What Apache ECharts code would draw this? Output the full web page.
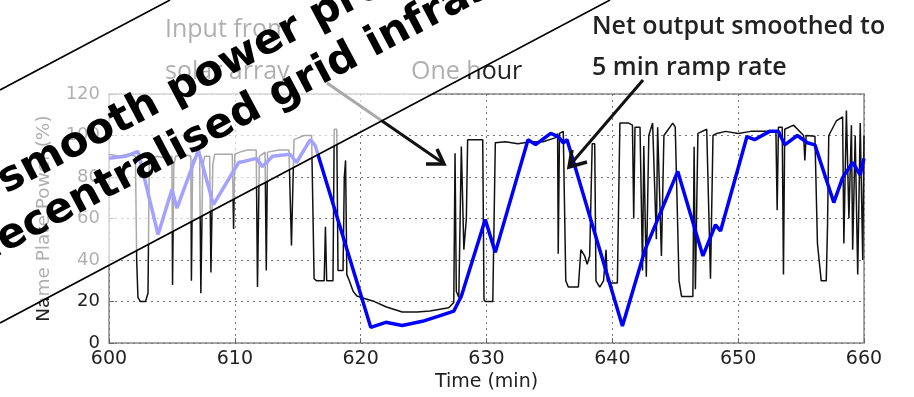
<!DOCTYPE html>
<html>
<head>
<meta charset="utf-8">
<script src="https://cdn.jsdelivr.net/npm/echarts@6/dist/echarts.min.js"></script>
<style>
  html, body { margin: 0; padding: 0; background: #fff; }
  #main { width: 914px; height: 397px; }
</style>
</head>
<body>
<div id="main"></div>
<script>
// raw input from the solar array (time in min, % of name plate power)
const inputTime = [
  600.0, 600.8, 601.5, 602.1, 602.2, 602.3, 602.5, 602.9, 603.1, 603.2,
  603.8, 604.6, 605.0, 605.05, 605.15, 605.3, 606.0, 606.5, 606.55, 606.65,
  607.2, 607.3, 607.45, 607.6, 608.0, 608.1, 608.25, 608.4, 609.0, 609.8,
  609.9, 610.0, 610.4, 611.0, 611.7, 611.8, 611.95, 612.4, 612.5, 612.6,
  613.5, 614.3, 614.5, 614.7, 615.5, 616.1, 616.3, 616.5, 617.1, 617.2,
  617.3, 617.8, 617.9, 618.1, 618.2, 618.6, 618.7, 618.8, 618.9, 619.1,
  619.4, 619.7, 620.3, 621.1, 622.0, 623.3, 624.5, 625.5, 627.0, 627.4,
  627.5, 627.6, 627.8, 628.0, 628.2, 628.4, 628.5, 629.0, 629.7, 629.8,
  629.9, 630.5, 630.7, 631.5, 632.5, 633.5, 634.5, 635.5, 635.65, 635.7,
  635.8, 636.1, 636.3, 636.5, 637.3, 637.5, 637.8, 638.0, 638.2, 638.4,
  638.6, 638.7, 639.0, 639.3, 639.5, 639.6, 639.8, 640.4, 640.6, 641.3,
  641.6, 641.7, 641.8, 642.2, 642.4, 642.5, 642.7, 642.9, 643.2, 643.5,
  643.6, 643.9, 644.1, 644.8, 645.0, 645.3, 645.5, 646.4, 646.5, 646.6,
  646.8, 647.5, 647.8, 648.0, 648.3, 649.0, 650.0, 651.0, 652.0, 653.0,
  653.1, 653.2, 653.5, 653.6, 653.7, 654.4, 655.2, 655.3, 655.4, 656.1,
  656.3, 656.6, 657.0, 657.1, 657.2, 657.8, 658.3, 658.4, 658.6, 658.8,
  659.0, 659.1, 659.3, 659.5, 659.7, 659.9, 660.0
]
const inputPower = [
  91, 90, 91, 90, 40, 22, 20, 20, 24, 88,
  90, 89, 90, 28, 86, 90, 91, 90, 30, 88,
  92, 24, 85, 90, 90, 34, 86, 91, 91, 91,
  55, 91, 92, 93, 93, 27, 90, 92, 35, 92,
  93, 93, 47, 98, 100, 100, 31, 30, 30, 56,
  30, 30, 103, 103, 35, 35, 80, 88, 33, 30,
  25, 22.7, 21.5, 20, 17.5, 15, 15, 15.5, 17, 19.6,
  91.5, 25, 22, 94.7, 45, 60, 98, 98, 98, 21,
  20, 20, 96.5, 97, 96, 97, 97, 99, 101, 43,
  101, 102, 30, 27, 27, 45, 42, 38, 42, 96,
  96, 30, 27, 30, 45, 30, 29, 29, 106, 106,
  105, 60, 104, 104, 35, 95, 32, 100, 106, 50,
  104, 42, 100, 106, 104, 30, 22.5, 22.5, 94.6, 26,
  101, 103, 31, 100, 101, 102, 101, 102, 102, 102,
  64, 104, 104, 33, 103, 105, 100, 88, 100, 99.6,
  48, 30, 30, 56, 100, 107, 109, 48, 112, 60,
  105, 45, 100, 33, 106, 40, 100
]

// net output after ramp-rate smoothing
const outputTime = [
  600.0, 601.3, 602.3, 603.9, 605.0, 605.4, 607.1, 608.3, 610.3, 610.7,
  611.7, 612.2, 613.0, 614.4, 614.9, 616.0, 616.4, 620.8, 622.0, 623.3,
  624.9, 626.2, 627.4, 628.0, 629.9, 630.7, 633.3, 633.9, 635.1, 635.7,
  636.1, 636.4, 640.8, 642.6, 645.2, 647.2, 648.2, 648.6, 650.7, 651.3,
  652.5, 653.2, 653.7, 654.7, 655.5, 656.1, 657.6, 658.3, 659.1, 659.7,
  660.0
]
const outputPower = [
  89, 90, 92.3, 52.3, 74, 65, 93, 66.7, 87, 87.5,
  89, 85, 90, 91, 87, 98, 95, 7.6, 10, 8.5,
  10.5, 13, 15.4, 22.6, 59.5, 43.7, 98, 95.6, 101, 99.5,
  96.5, 98, 8.2, 45, 82.7, 42, 57, 54, 99.5, 98,
  102, 102, 95.5, 100, 96.5, 95.5, 67.7, 79.7, 87, 81,
  89
]

const timeRange = [600, 660]
const powerRange = [0, 120]

const chart = echarts.init(document.getElementById('main'))
const deg = Math.PI / 180
const tilt = 27.9 * deg

chart.setOption({
  animation: false,
  grid: {
    left: 109,
    right: 50,
    top: 94,
    bottom: 53,
    show: true,
    borderColor: '#8a8a8a',
    borderWidth: 1.5
  },
  xAxis: {
    type: 'value',
    min: timeRange[0],
    max: timeRange[1],
    interval: 10,
    name: 'Time (min)',
    nameLocation: 'middle',
    nameGap: 29,
    nameTextStyle: { fontFamily: 'DejaVu Sans', fontSize: 19, color: '#222' },
    axisLine: { show: false },
    axisTick: { inside: true, length: 5, lineStyle: { color: '#666' } },
    axisLabel: { fontFamily: 'DejaVu Sans', fontSize: 19, color: '#222', margin: 6 },
    splitLine: { show: true, lineStyle: { type: [2, 4], color: '#777' } }
  },
  yAxis: {
    type: 'value',
    min: powerRange[0],
    max: powerRange[1],
    interval: 20,
    name: 'Name Plate Power (%)',
    nameLocation: 'middle',
    nameGap: 55,
    nameTextStyle: { fontFamily: 'DejaVu Sans', fontSize: 18.5, color: '#222' },
    axisLine: { show: false },
    axisTick: { inside: true, length: 5, lineStyle: { color: '#666' } },
    axisLabel: { fontFamily: 'DejaVu Sans', fontSize: 18, color: '#222', margin: 9 },
    splitLine: { show: true, lineStyle: { type: [2, 4], color: '#777' } }
  },
  series: [
    {
      name: 'Input',
      type: 'line',
      showSymbol: false,
      data: inputTime.map((t, i) => [t, inputPower[i]]),
      lineStyle: { color: '#111', width: 1.5 }
    },
    {
      name: 'Output',
      type: 'line',
      showSymbol: false,
      data: outputTime.map((t, i) => [t, outputPower[i]]),
      lineStyle: { color: '#0000ff', width: 3.5 }
    }
  ],
  graphic: [
    // annotations (drawn under the banner)
    { type: 'text', z: 50, x: 165, y: 30, style: { text: 'Input from', font: '25px "Open Sans"', fill: '#222', verticalAlign: 'middle' } },
    { type: 'text', z: 50, x: 165, y: 72, style: { text: 'solar array', font: '25px "Open Sans"', fill: '#222', verticalAlign: 'middle' } },
    { type: 'text', z: 50, x: 411, y: 72, style: { text: 'One hour', font: '25px "Open Sans"', fill: '#222', verticalAlign: 'middle' } },
    { type: 'text', z: 50, x: 592, y: 27, style: { text: 'Net output smoothed to', font: '600 25px "Open Sans"', fill: '#222', verticalAlign: 'middle' } },
    { type: 'text', z: 50, x: 592, y: 68, style: { text: '5 min ramp rate', font: '600 25px "Open Sans"', fill: '#222', verticalAlign: 'middle' } },
    // arrows
    { type: 'line', z: 50, shape: { x1: 327, y1: 83, x2: 443, y2: 163 }, style: { stroke: '#111', lineWidth: 3 } },
    { type: 'polyline', z: 50, shape: { points: [[426, 164], [444, 164], [437, 149]] }, style: { stroke: '#111', lineWidth: 3.5, fill: null } },
    { type: 'line', z: 50, shape: { x1: 643, y1: 80, x2: 570, y2: 165 }, style: { stroke: '#111', lineWidth: 3 } },
    { type: 'polyline', z: 50, shape: { points: [[587, 162], [569, 167], [572, 150]] }, style: { stroke: '#111', lineWidth: 3.5, fill: null } },
    // diagonal banner
    { type: 'polygon', z: 60, shape: { points: [[0, 90], [170, 0], [610, 0], [0, 323]] }, style: { fill: 'rgba(255,255,255,0.64)' } },
    { type: 'line', z: 70, shape: { x1: 0, y1: 90, x2: 170, y2: 0 }, style: { stroke: '#000', lineWidth: 1.6 } },
    { type: 'line', z: 70, shape: { x1: 0, y1: 323, x2: 610, y2: 0 }, style: { stroke: '#000', lineWidth: 1.6 } },
    { type: 'text', z: 70, x: 1, y: 184, rotation: tilt, style: { text: 'smooth power profiles', font: 'bold 42px "DejaVu Sans"', fill: '#000', verticalAlign: 'middle' } },
    { type: 'text', z: 70, x: -27, y: 257, rotation: tilt, style: { text: 'decentralised grid infrastructure', font: 'bold 42px "DejaVu Sans"', fill: '#000', verticalAlign: 'middle' } }
  ]
})
</script>
</body>
</html>
